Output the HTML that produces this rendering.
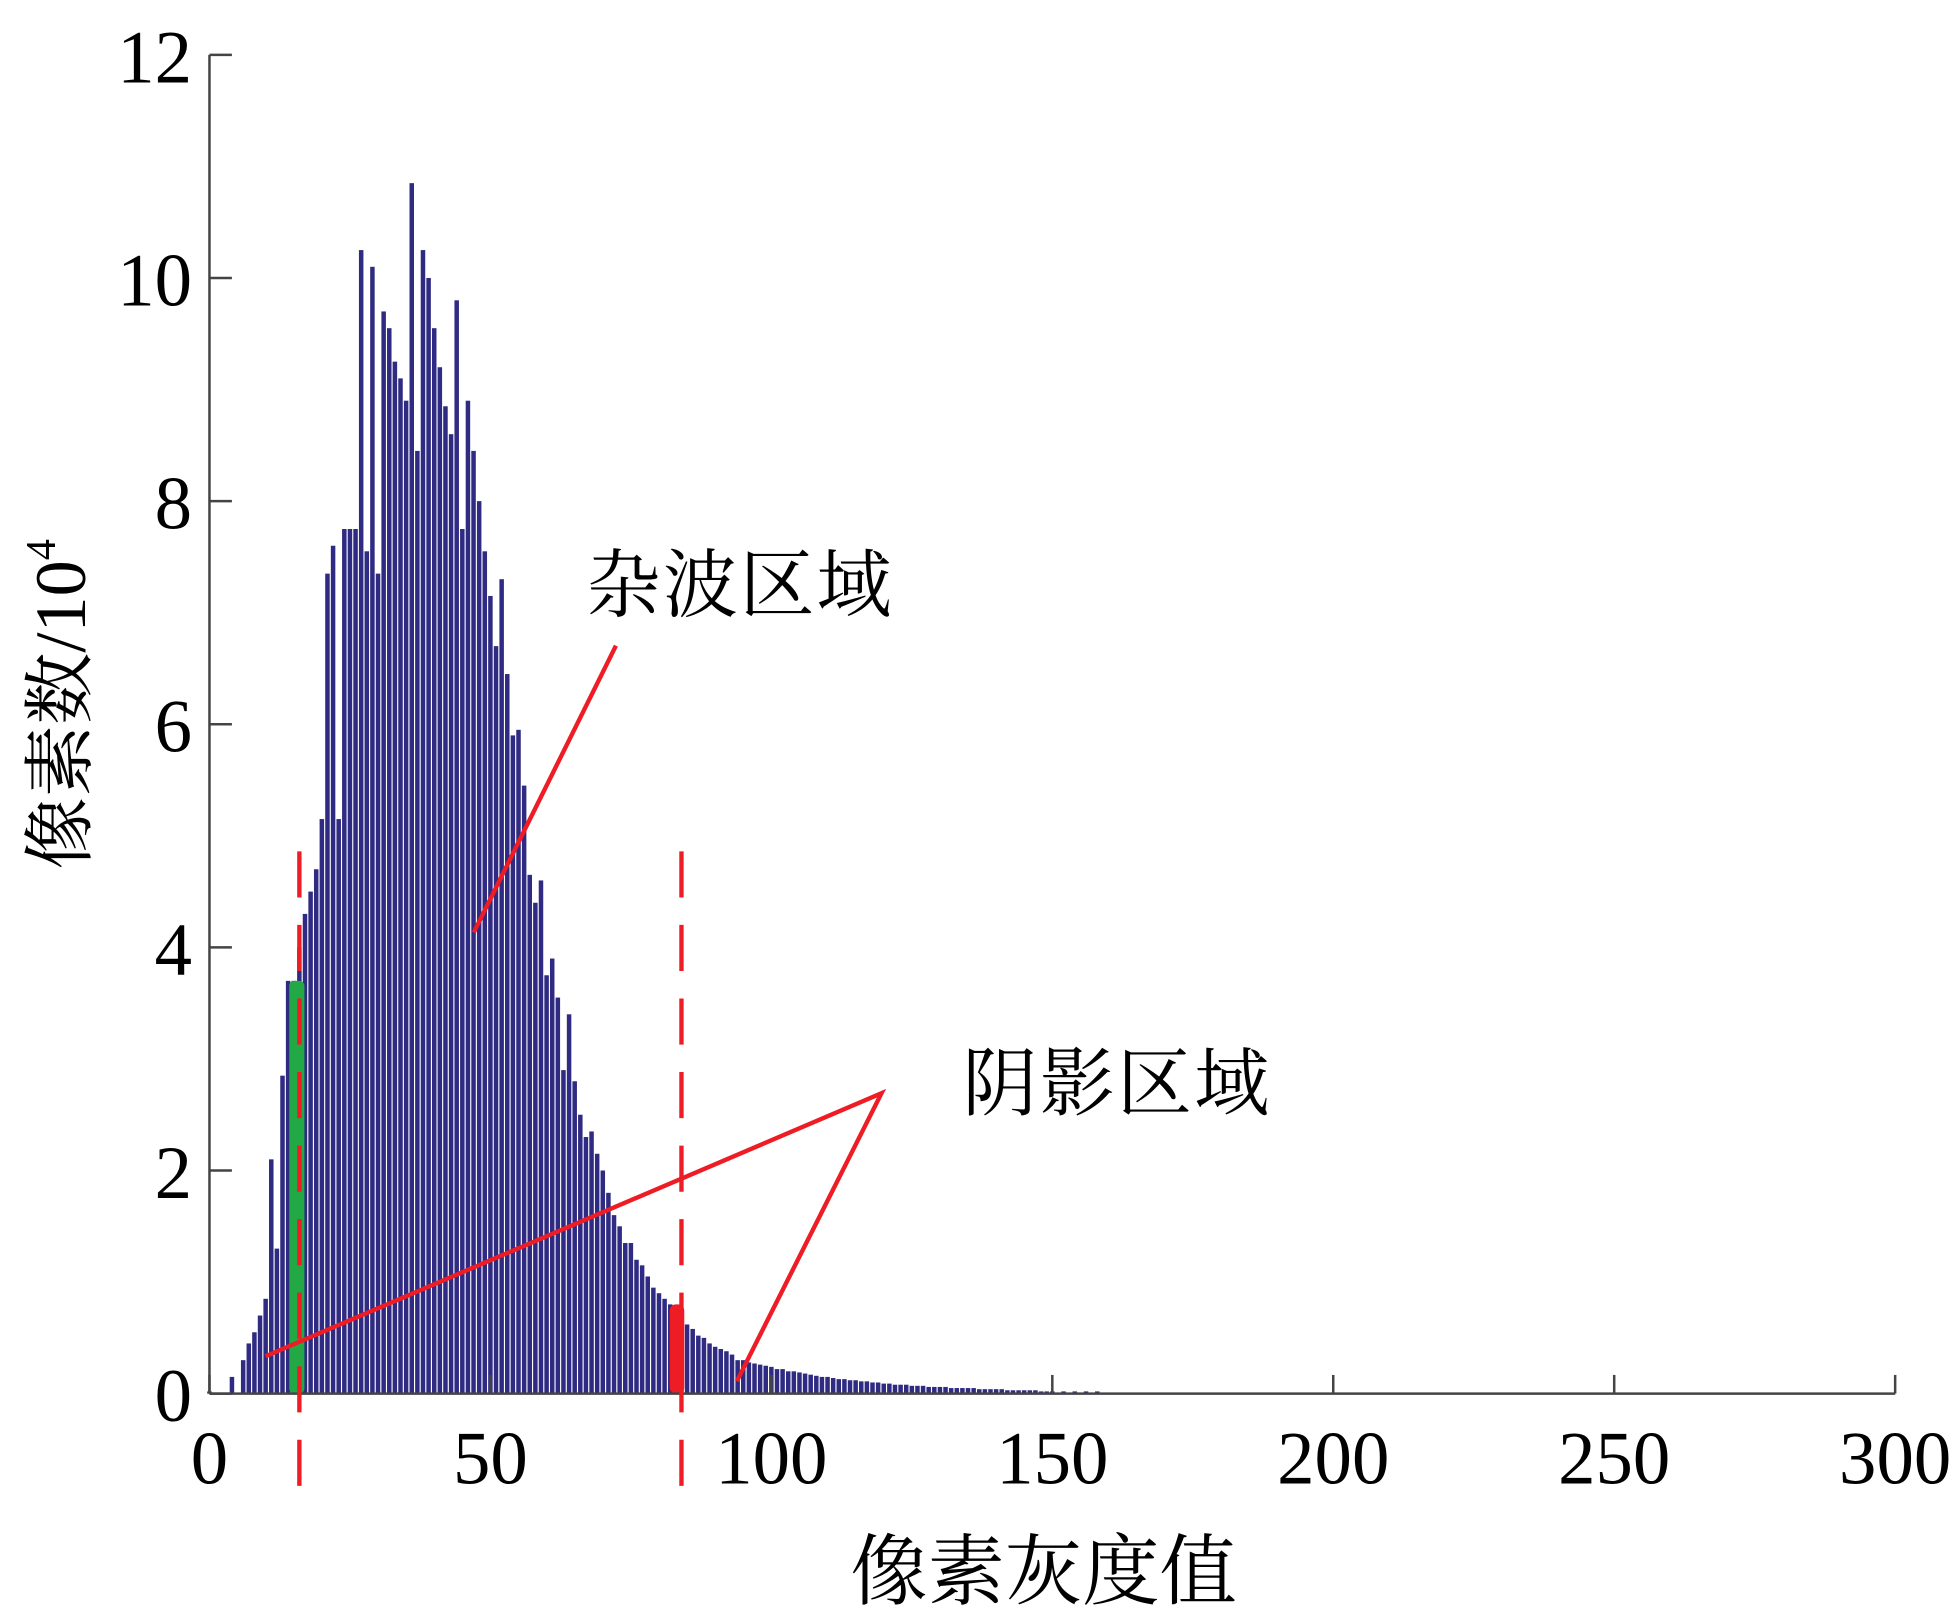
<!DOCTYPE html>
<html><head><meta charset="utf-8"><style>
html,body{margin:0;padding:0;background:#fff;}
svg{display:block;}
.t{font-family:"Liberation Serif","Noto Serif CJK SC",serif;fill:#000;}
.c{font-family:"Liberation Serif","Noto Serif CJK SC","Noto Sans CJK SC",serif;fill:#000;}
</style></head><body>
<svg id="chart" width="1955" height="1623" viewBox="0 0 1568 1302" preserveAspectRatio="none" xmlns="http://www.w3.org/2000/svg">
<g id="bars"></g>
<g id="highlights"></g>
<g id="axes"></g>
<g id="annot"></g>
<text class="c" transform="translate(68,565) rotate(-90)" text-anchor="middle" font-size="58">像素数/10<tspan dy="-24" font-size="34">4</tspan></text>
<text class="c" x="837" y="1282" text-anchor="middle" font-size="62">像素灰度值</text>
<text class="c" x="470" y="490" font-size="60" textLength="245">杂波区域</text>
<text class="c" x="772" y="890" font-size="60" textLength="246">阴影区域</text>
</svg>
<script>
const grayLevels = [0,4,6,7,8,9,10,11,12,13,14,15,16,17,18,19,20,21,22,23,24,25,26,27,28,29,30,31,32,33,34,35,36,37,38,39,40,41,42,43,44,45,46,47,48,49,50,51,52,53,54,55,56,57,58,59,60,61,62,63,64,65,66,67,68,69,70,71,72,73,74,75,76,77,78,79,80,81,82,83,84,85,86,87,88,89,90,91,92,93,94,95,96,97,98,99,100,101,102,103,104,105,106,107,108,109,110,111,112,113,114,115,116,117,118,119,120,121,122,123,124,125,126,127,128,129,130,131,132,133,134,135,136,137,138,139,140,141,142,143,144,145,146,147,148,149,150,152,154,156,158,160,256];
const pixelCounts = [0.02,0.15,0.3,0.45,0.55,0.7,0.85,2.1,1.3,2.85,3.7,3.7,4.0,4.3,4.5,4.7,5.15,7.35,7.6,5.15,7.75,7.75,7.75,10.25,7.55,10.1,7.35,9.7,9.55,9.25,9.1,8.9,10.85,8.45,10.25,10.0,9.55,9.2,8.85,8.6,9.8,7.75,8.9,8.45,8.0,7.55,7.15,6.7,7.3,6.45,5.9,5.95,5.45,4.65,4.4,4.6,3.75,3.9,3.55,2.9,3.4,2.8,2.5,2.3,2.35,2.15,2.0,1.8,1.6,1.5,1.35,1.35,1.2,1.15,1.05,0.95,0.9,0.85,0.8,0.75,0.7,0.62,0.58,0.52,0.5,0.45,0.42,0.4,0.38,0.35,0.3,0.3,0.28,0.27,0.26,0.25,0.24,0.22,0.22,0.2,0.2,0.19,0.18,0.17,0.16,0.15,0.15,0.14,0.13,0.13,0.12,0.12,0.11,0.11,0.1,0.1,0.09,0.09,0.08,0.08,0.08,0.07,0.07,0.07,0.06,0.06,0.06,0.06,0.05,0.05,0.05,0.05,0.05,0.04,0.04,0.04,0.04,0.04,0.03,0.03,0.03,0.03,0.03,0.03,0.02,0.02,0.02,0.02,0.02,0.02,0.02];
const xTicks = [0,50,100,150,200,250,300];
const xTickLabels = ["0","50","100","150","200","250","300"];
const yTicks = [0,2,4,6,8,10,12];
const yTickLabels = ["0","2","4","6","8","10","12"];
const thresholds = [16,84];
const greenRange = [14.2,16.9];
const greenHeight = [3.7];
const redRange = [81.9,84.5];
const redHeight = [0.8];

const NS="http://www.w3.org/2000/svg";
const X0=168,X1=1520,Y0=1118,Y1=44;
function xs(v){return X0+(X1-X0)*v/300;}
function ys(v){return Y0-(Y0-Y1)*v/12;}
function mk(tag,attrs,parent){const e=document.createElementNS(NS,tag);for(const k in attrs)e.setAttribute(k,attrs[k]);parent.appendChild(e);return e;}

const bars=document.getElementById('bars');
const bw=(xs(1)-xs(0))*0.8;
grayLevels.forEach((g,i)=>{
  const v=pixelCounts[i];
  const r=mk('rect',{x:xs(g)-bw/2,y:ys(v),width:bw,height:Y0-ys(v),fill:'#2f2a82'},bars);
  
  
});

const hl=document.getElementById('highlights');
const gr=mk('rect',{x:xs(greenRange[0]),y:ys(greenHeight[0]),width:xs(greenRange[1])-xs(greenRange[0]),height:Y0-ys(greenHeight[0]),rx:4,fill:'#22a845'},hl);


const rr=mk('rect',{x:xs(redRange[0]),y:ys(redHeight[0]),width:xs(redRange[1])-xs(redRange[0]),height:Y0-ys(redHeight[0]),rx:5,fill:'#ee1c24'},hl);



const ax=document.getElementById('axes');
const yl=mk('line',{x1:X0,y1:Y1,x2:X0,y2:Y0,stroke:'#444','stroke-width':2},ax);


const xl=mk('line',{x1:X0,y1:Y0,x2:X1,y2:Y0,stroke:'#444','stroke-width':2},ax);


yTicks.forEach((v,i)=>{
  mk('line',{x1:X0,y1:ys(v),x2:X0+18,y2:ys(v),stroke:'#444','stroke-width':2},ax);
  const t=mk('text',{x:154,y:ys(v)+22,'text-anchor':'end','font-size':60,class:'t'},ax);
  t.textContent=yTickLabels[i];
  
  
});
xTicks.forEach((v,i)=>{
  mk('line',{x1:xs(v),y1:Y0,x2:xs(v),y2:Y0-15,stroke:'#444','stroke-width':2},ax);
  const t=mk('text',{x:xs(v),y:1190,'text-anchor':'middle','font-size':60,class:'t'},ax);
  t.textContent=xTickLabels[i];
  
  
});

const an=document.getElementById('annot');
thresholds.forEach(v=>{
  const l=mk('line',{x1:xs(v),y1:683,x2:xs(v),y2:1212,stroke:'#ee1c24','stroke-width':3.5,'stroke-dasharray':'37 22'},an);
  
  
});
const p1=mk('polyline',{points:'380,748 494,518',fill:'none',stroke:'#ee1c24','stroke-width':3.5},an);


const p2=mk('polyline',{points:'213,1088 707,877 591,1108',fill:'none',stroke:'#ee1c24','stroke-width':3.5},an);


</script>
</body></html>
